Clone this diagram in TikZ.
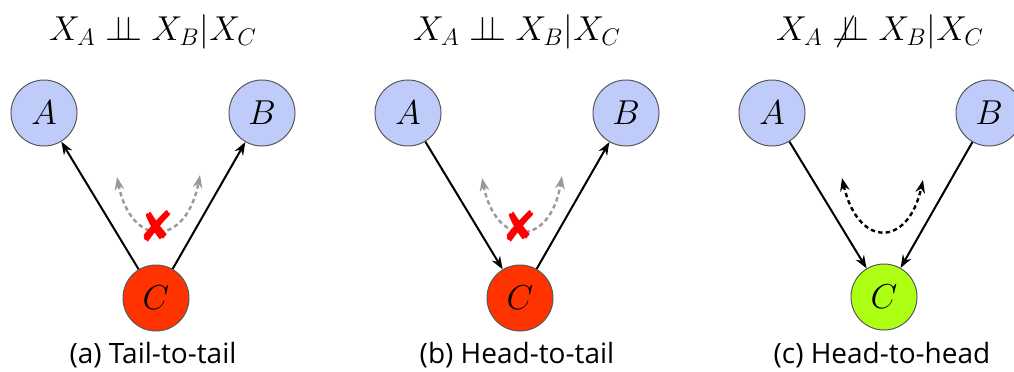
\documentclass[tikz,border=0pt]{standalone}
\usepackage{fontspec}
\usepackage{pifont}
\usetikzlibrary{arrows.meta}
\newfontfamily\capfont{Open Sans}
\definecolor{varblue}{HTML}{BFCCF9}
\definecolor{varred}{HTML}{FF3300}
\definecolor{vargreen}{HTML}{ADFF14}
\newcommand{\indep}{\perp\!\!\!\perp}
\newcommand{\nindep}{\not\perp\!\!\!\perp}
\tikzset{
  var/.style={circle, draw=black!65, line width=0.5pt, minimum size=33pt, inner sep=0pt, font=\fontsize{19}{22}\selectfont},
  edge/.style={->, line width=1pt},
  flow/.style={<->, line width=1.2pt, dash pattern=on 2.2pt off 1.6pt},
  cross/.style={text=red, font=\fontsize{22}{24}\selectfont, inner sep=0pt},
  subcap/.style={font=\capfont\fontsize{14}{16}\selectfont},
  indtitle/.style={font=\fontsize{16.5}{19}\selectfont}
}
\begin{document}
\begin{tikzpicture}[x=0.5pt,y=-0.5pt,>={Stealth[length=6.5pt,width=4.8pt]}]
\useasboundingbox (0,0) rectangle (1014,371);
% (a) tail-to-tail
\node[indtitle] (t1) at (153,32) {$X_A \indep X_B | X_C$};
\node[var, fill=varblue] (a1) at (44,113) {$A$};
\node[var, fill=varblue] (b1) at (262,113) {$B$};
\node[var, fill=varred] (c1) at (156,298) {$C$};
\draw[edge] (c1) -- (a1);
\draw[edge] (c1) -- (b1);
\draw[flow, gray!80] (117,177) .. controls (131,248) and (186,248) .. (200,175);
\node[cross] (x1) at (157,226) {\ding{56}};
\node[subcap] (cap1) at (153,355) {(a) Tail-to-tail};
% (b) head-to-tail
\node[indtitle] (t2) at (517,32) {$X_A \indep X_B | X_C$};
\node[var, fill=varblue] (a2) at (408,113) {$A$};
\node[var, fill=varblue] (b2) at (626,113) {$B$};
\node[var, fill=varred] (c2) at (520,298) {$C$};
\draw[edge] (a2) -- (c2);
\draw[edge] (c2) -- (b2);
\draw[flow, gray!80] (482,178) .. controls (496,248) and (550,248) .. (562,176);
\node[cross] (x2) at (520,226) {\ding{56}};
\node[subcap] (cap2) at (517,355) {(b) Head-to-tail};
% (c) head-to-head
\node[indtitle] (t3) at (880,32) {$X_A \nindep X_B | X_C$};
\node[var, fill=varblue] (a3) at (772,113) {$A$};
\node[var, fill=varblue] (b3) at (989,113) {$B$};
\node[var, fill=vargreen] (c3) at (884,297) {$C$};
\draw[edge] (a3) -- (c3);
\draw[edge] (b3) -- (c3);
\draw[flow] (842,178) .. controls (858,248) and (908,248) .. (923,180);
\node[subcap] (cap3) at (882,355) {(c) Head-to-head};
\end{tikzpicture}
\end{document}
